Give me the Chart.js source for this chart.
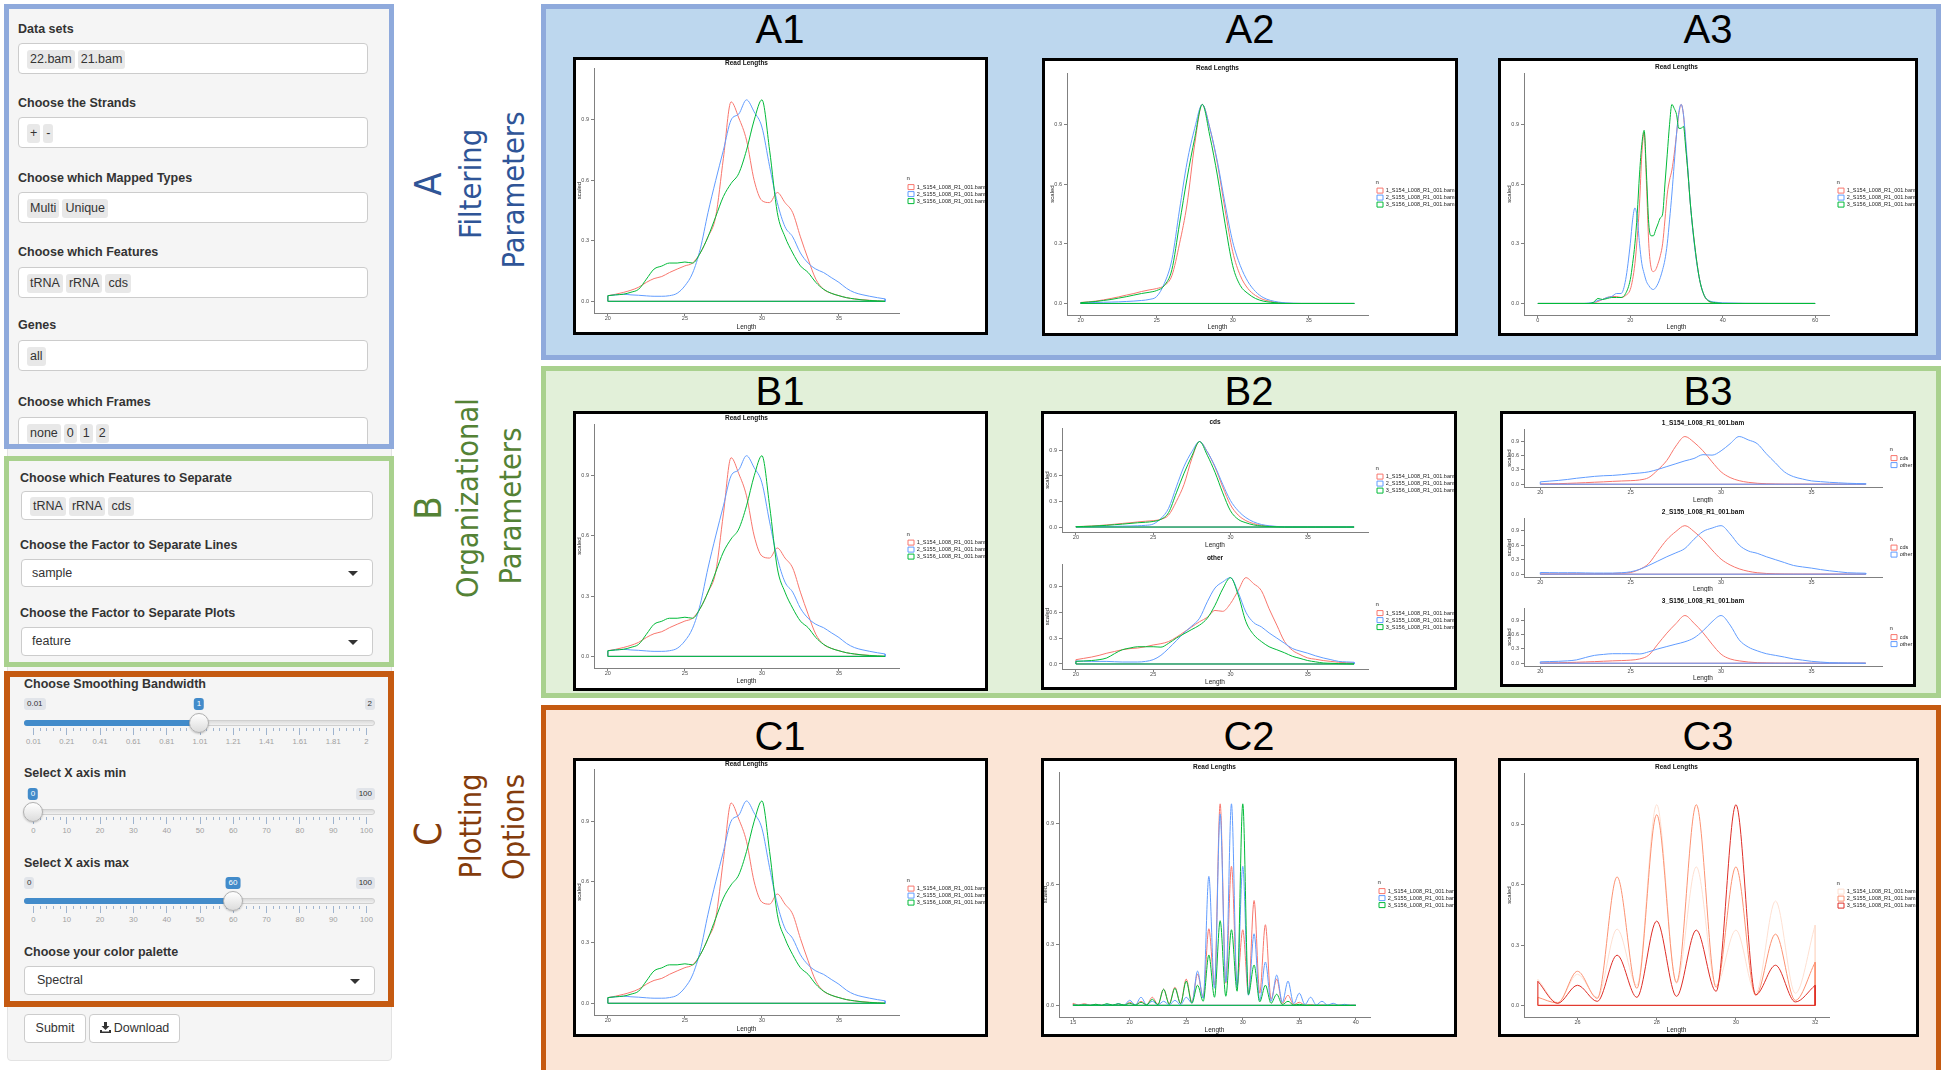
<!DOCTYPE html>
<html>
<head>
<meta charset="utf-8">
<title>Read length explorer</title>
<script src="https://cdn.jsdelivr.net/npm/chart.js@4.4.1/dist/chart.umd.min.js"></script>
<style>
  html, body { margin: 0; padding: 0; }
  body { width: 1945px; height: 1070px; position: relative; overflow: hidden; background: #fff;
         font-family: "Liberation Sans", Arial, sans-serif; color: #333; }
  .a { position: absolute; }
  .well { left: 7px; top: 4px; width: 385px; height: 1057px; background: #f5f5f5; border: 1px solid #e3e3e3;
          border-radius: 4px; box-sizing: border-box; }
  .frame { position: absolute; box-sizing: border-box; z-index: 3; }
  .lbl { position: absolute; font-weight: bold; font-size: 12.5px; line-height: 16px; white-space: nowrap; z-index: 2; color: #333; }
  .inp { position: absolute; background: #fff; border: 1px solid #ccc; border-radius: 4px; box-sizing: border-box;
         z-index: 2; padding: 5px 0 0 8px; white-space: nowrap; }
  .chip { display: inline-block; background: #e8e8e8; border-radius: 3px; height: 19px; line-height: 19px;
          font-size: 12.5px; padding: 0 3px; margin-right: 3px; color: #333; }
  .sel { position: absolute; background: #fff; border: 1px solid #ccc; border-radius: 4px; box-sizing: border-box;
         z-index: 2; font-size: 12.5px; padding-left: 10px; color: #333; }
  .caret { position: absolute; right: 14px; width: 0; height: 0; border-left: 5px solid transparent;
           border-right: 5px solid transparent; border-top: 5px solid #333; }
  .btn { position: absolute; background: #fff; border: 1px solid #ccc; border-radius: 4px; box-sizing: border-box;
         font-size: 12.5px; line-height: 27px; text-align: center; color: #333; z-index: 2; }
  .track { position: absolute; height: 6px; border-radius: 3px; background: linear-gradient(#dcdcdc, #f0f0f0);
           border: 1px solid #cfcfcf; box-sizing: border-box; z-index: 2; }
  .fill { position: absolute; height: 6px; border-radius: 3px; background: #428bca; z-index: 2; }
  .handle { position: absolute; width: 20px; height: 20px; border-radius: 50%; box-sizing: border-box;
            background: linear-gradient(#ffffff, #dcdcdc); border: 1px solid #b0b0b0; z-index: 4;
            box-shadow: 0 1px 2px rgba(0,0,0,0.2); }
  .mm { position: absolute; background: #e1e4e9; color: #333; font-size: 8px; line-height: 12px; padding: 0 3px;
        border-radius: 3px; z-index: 2; }
  .tag { position: absolute; background: #428bca; color: #fff; font-size: 8px; line-height: 12px; padding: 0 3px;
         border-radius: 3px; z-index: 2; transform: translateX(-50%); }
  .gl { position: absolute; width: 1px; background: #9fb4cf; z-index: 2; }
  .gt { position: absolute; font-size: 7.7px; color: #a0a0a0; transform: translateX(-50%); z-index: 2; white-space: nowrap; }
  .panel { position: absolute; box-sizing: border-box; border-width: 5px; border-style: solid; }
  .cbox { position: absolute; box-sizing: border-box; border: 3px solid #000; background: #fff; z-index: 2; }
  .plabel { position: absolute; width: 200px; text-align: center; font-size: 40px; line-height: 40px; color: #000; z-index: 2; }
  .vl { position: absolute; width: 300px; text-align: center; white-space: nowrap; transform: rotate(-90deg);
        font-family: "Liberation Sans Narrow", "DejaVu Sans Condensed", "Liberation Sans", sans-serif; }
  .vl.big { font-size: 38px; line-height: 38px; }
  .vl.word { font-size: 30.5px; line-height: 32px; }
  canvas.plot { position: absolute; z-index: 5; }
</style>
</head>
<body>

<!-- sidebar -->
<div class="a well"></div>
<div class="frame" style="left:4px;top:4px;width:390px;height:445px;border:5px solid #8faadc;"></div>
<div class="frame" style="left:4px;top:456px;width:390px;height:211px;border:5px solid #a9d18e;"></div>
<div class="frame" style="left:4px;top:671px;width:390px;height:336px;border:6px solid #c55a11;"></div>

<div class="lbl" style="left:18px;top:21px;">Data sets</div>
<div class="inp" style="left:18px;top:43px;width:350px;height:31px;"><span class="chip">22.bam</span><span class="chip">21.bam</span></div>
<div class="lbl" style="left:18px;top:95px;">Choose the Strands</div>
<div class="inp" style="left:18px;top:117px;width:350px;height:31px;"><span class="chip">+</span><span class="chip">-</span></div>
<div class="lbl" style="left:18px;top:170px;">Choose which Mapped Types</div>
<div class="inp" style="left:18px;top:192px;width:350px;height:31px;"><span class="chip">Multi</span><span class="chip">Unique</span></div>
<div class="lbl" style="left:18px;top:244px;">Choose which Features</div>
<div class="inp" style="left:18px;top:267px;width:350px;height:31px;"><span class="chip">tRNA</span><span class="chip">rRNA</span><span class="chip">cds</span></div>
<div class="lbl" style="left:18px;top:317px;">Genes</div>
<div class="inp" style="left:18px;top:340px;width:350px;height:31px;"><span class="chip">all</span></div>
<div class="lbl" style="left:18px;top:394px;">Choose which Frames</div>
<div class="inp" style="left:18px;top:417px;width:350px;height:31px;"><span class="chip">none</span><span class="chip">0</span><span class="chip">1</span><span class="chip">2</span></div>

<div class="lbl" style="left:20px;top:470px;">Choose which Features to Separate</div>
<div class="inp" style="left:21px;top:491px;width:352px;height:29px;padding-top:4px;"><span class="chip">tRNA</span><span class="chip">rRNA</span><span class="chip">cds</span></div>
<div class="lbl" style="left:20px;top:537px;">Choose the Factor to Separate Lines</div>
<div class="sel" style="left:21px;top:559px;width:352px;height:28px;line-height:26px;">sample<div class="caret" style="top:11px;"></div></div>
<div class="lbl" style="left:20px;top:605px;">Choose the Factor to Separate Plots</div>
<div class="sel" style="left:21px;top:627px;width:352px;height:29px;line-height:27px;">feature<div class="caret" style="top:12px;"></div></div>

<div class="lbl" style="left:24px;top:676px;">Choose Smoothing Bandwidth</div>
<div class="lbl" style="left:24px;top:765px;">Select X axis min</div>
<div class="lbl" style="left:24px;top:855px;">Select X axis max</div>
<div class="lbl" style="left:24px;top:944px;">Choose your color palette</div>
<div class="sel" style="left:24px;top:966px;width:351px;height:29px;line-height:27px;padding-left:12px;">Spectral<div class="caret" style="top:12px;"></div></div>

<div class="btn" style="left:24px;top:1014px;width:62px;height:29px;">Submit</div>
<div class="btn" style="left:89px;top:1014px;width:91px;height:29px;">
  <svg width="11" height="11" viewBox="0 0 11 11" style="vertical-align:-1px;margin-right:3px;"><path d="M4 0h3v4h2.5L5.5 8 1.5 4H4z M0 8h2v1.5h7V8h2v3H0z" fill="#333"/></svg>Download</div>

<!-- right panels -->
<div class="panel" style="left:541px;top:4px;width:1400px;height:356px;border-color:#8faadc;background:#bdd7ee;"></div>
<div class="panel" style="left:541px;top:366px;width:1400px;height:332px;border-color:#a9d18e;background:#e2f0d9;"></div>
<div class="panel" style="left:541px;top:705px;width:1400px;height:370px;border-color:#c55a11;background:#fbe5d6;"></div>

<div class="vl big" style="left:278px;top:165px;color:#2f5597;">A</div>
<div class="vl word" style="left:321px;top:168px;color:#2f5597;">Filtering</div>
<div class="vl word" style="left:364px;top:174px;color:#2f5597;">Parameters</div>
<div class="vl big" style="left:278px;top:489px;color:#548235;">B</div>
<div class="vl word" style="left:318px;top:482px;color:#548235;">Organizational</div>
<div class="vl word" style="left:361px;top:490px;color:#548235;">Parameters</div>
<div class="vl big" style="left:278px;top:815px;color:#843c0c;">C</div>
<div class="vl word" style="left:321px;top:810px;color:#843c0c;">Plotting</div>
<div class="vl word" style="left:364px;top:811px;color:#843c0c;">Options</div>

<div class="plabel" style="left:680px;top:9px;">A1</div>
<div class="plabel" style="left:1150px;top:9px;">A2</div>
<div class="plabel" style="left:1608px;top:9px;">A3</div>
<div class="plabel" style="left:680px;top:371px;">B1</div>
<div class="plabel" style="left:1149px;top:371px;">B2</div>
<div class="plabel" style="left:1608px;top:371px;">B3</div>
<div class="plabel" style="left:680px;top:716px;">C1</div>
<div class="plabel" style="left:1149px;top:716px;">C2</div>
<div class="plabel" style="left:1608px;top:716px;">C3</div>

<div class="cbox" style="left:573px;top:57px;width:415px;height:278px;"></div>
<div class="cbox" style="left:1042px;top:58px;width:416px;height:278px;"></div>
<div class="cbox" style="left:1498px;top:58px;width:420px;height:278px;"></div>
<div class="cbox" style="left:573px;top:411px;width:415px;height:280px;"></div>
<div class="cbox" style="left:1041px;top:411px;width:416px;height:279px;"></div>
<div class="cbox" style="left:1500px;top:411px;width:416px;height:276px;"></div>
<div class="cbox" style="left:573px;top:758px;width:415px;height:279px;"></div>
<div class="cbox" style="left:1041px;top:758px;width:416px;height:279px;"></div>
<div class="cbox" style="left:1498px;top:758px;width:421px;height:279px;"></div>

<script>
// ---------------- DATA ----------------
const sampleNames = ["1_S154_L008_R1_001.bam", "2_S155_L008_R1_001.bam", "3_S156_L008_R1_001.bam"];
const featureNames = ["cds", "other"];

// read lengths, 20..38 nt
const lengthsRead = [20, 20.5, 21, 21.5, 22, 22.5, 23, 23.5, 24, 24.5, 25, 25.5, 26, 26.5, 27, 27.5, 28, 28.5,
  29, 29.5, 30, 30.5, 31, 31.5, 32, 32.5, 33, 33.5, 34, 34.5, 35, 35.5, 36, 36.5, 37, 37.5, 38];

// all features (A1, B1, C1)
const allS154 = [0.028, 0.035, 0.044, 0.055, 0.07, 0.094, 0.113, 0.123, 0.143, 0.16, 0.176, 0.19, 0.24, 0.32, 0.42,
  0.71, 0.99, 0.91, 0.80, 0.60, 0.50, 0.49, 0.54, 0.49, 0.44, 0.32, 0.21, 0.11, 0.06, 0.04, 0.028, 0.018, 0.012,
  0.008, 0.005, 0.002, 0];
const allS155 = [0.028, 0.032, 0.035, 0.032, 0.03, 0.027, 0.025, 0.025, 0.028, 0.04, 0.077, 0.14, 0.26, 0.44, 0.60,
  0.75, 0.90, 0.93, 1.0, 0.94, 0.865, 0.67, 0.49, 0.37, 0.32, 0.24, 0.19, 0.16, 0.143, 0.118, 0.094, 0.064, 0.044,
  0.033, 0.025, 0.018, 0.012];
const allS156 = [0.028, 0.032, 0.035, 0.045, 0.06, 0.11, 0.16, 0.175, 0.19, 0.19, 0.195, 0.19, 0.24, 0.32, 0.42,
  0.52, 0.585, 0.635, 0.75, 0.90, 1.0, 0.75, 0.44, 0.32, 0.24, 0.176, 0.143, 0.094, 0.06, 0.04, 0.028, 0.018, 0.012,
  0.007, 0.004, 0.002, 0];

// cds only (A2, B2 top, B3 red)
const cdsS154 = [0.005, 0.008, 0.012, 0.018, 0.025, 0.033, 0.042, 0.05, 0.06, 0.068, 0.075, 0.09, 0.14, 0.30, 0.50,
  0.80, 1.0, 0.88, 0.70, 0.47, 0.26, 0.14, 0.075, 0.04, 0.02, 0.01, 0.004, 0.001, 0, 0, 0, 0, 0, 0, 0, 0, 0];
const cdsS155 = [0.003, 0.004, 0.005, 0.006, 0.007, 0.008, 0.01, 0.012, 0.015, 0.02, 0.035, 0.1, 0.22, 0.47, 0.71,
  0.88, 1.0, 0.88, 0.71, 0.50, 0.31, 0.19, 0.11, 0.06, 0.03, 0.015, 0.007, 0.003, 0.001, 0, 0, 0, 0, 0, 0, 0, 0];
const cdsS156 = [0.004, 0.007, 0.01, 0.015, 0.02, 0.027, 0.034, 0.042, 0.05, 0.056, 0.065, 0.09, 0.17, 0.40, 0.63,
  0.83, 1.0, 0.84, 0.64, 0.40, 0.19, 0.09, 0.05, 0.025, 0.012, 0.006, 0.002, 0, 0, 0, 0, 0, 0, 0, 0, 0, 0];

// everything but cds (B2 bottom, B3 blue)
const otherS154 = [0.05, 0.065, 0.08, 0.1, 0.125, 0.145, 0.165, 0.178, 0.185, 0.2, 0.22, 0.235, 0.26, 0.31, 0.37,
  0.43, 0.49, 0.54, 0.62, 0.61, 0.70, 0.85, 1.0, 0.93, 0.85, 0.64, 0.45, 0.26, 0.16, 0.11, 0.07, 0.055, 0.04, 0.03,
  0.02, 0.015, 0.012];
const otherS155 = [0.035, 0.032, 0.03, 0.03, 0.03, 0.026, 0.023, 0.023, 0.023, 0.03, 0.05, 0.1, 0.18, 0.27, 0.36,
  0.44, 0.53, 0.72, 0.88, 0.95, 1.0, 0.83, 0.6, 0.48, 0.43, 0.36, 0.3, 0.24, 0.18, 0.15, 0.125, 0.095, 0.07, 0.05,
  0.03, 0.024, 0.02];
const otherS156 = [0.03, 0.035, 0.04, 0.05, 0.07, 0.12, 0.165, 0.185, 0.2, 0.2, 0.2, 0.195, 0.24, 0.3, 0.35, 0.4,
  0.45, 0.53, 0.68, 0.87, 1.0, 0.8, 0.49, 0.34, 0.26, 0.2, 0.165, 0.13, 0.09, 0.065, 0.04, 0.025, 0.012, 0.008,
  0.004, 0.002, 0];

// A3: x axis 0..60
const lengthsWide = [0, 10, 11, 12, 13, 14, 15, 16, 17, 18, 19, 20, 20.5, 21, 21.5, 22, 22.5, 23, 23.5, 24, 24.5,
  25, 25.5, 26, 26.5, 27, 27.5, 28, 28.5, 29, 29.5, 30, 30.5, 31, 31.5, 32, 32.5, 33, 34, 35, 36, 37, 38, 39, 40,
  50, 60];
const wideS154 = [0, 0, 0, 0.002, 0.01, 0.02, 0.03, 0.035, 0.035, 0.03, 0.04, 0.07, 0.12, 0.2, 0.33, 0.5, 0.75,
  0.86, 0.6, 0.3, 0.18, 0.16, 0.17, 0.2, 0.24, 0.3, 0.42, 0.55, 0.62, 0.67, 0.75, 0.85, 0.95, 1.0, 0.95, 0.8, 0.65,
  0.5, 0.28, 0.12, 0.04, 0.01, 0.004, 0.001, 0, 0, 0];
const wideS155 = [0, 0, 0.002, 0.005, 0.015, 0.02, 0.03, 0.035, 0.05, 0.05, 0.12, 0.3, 0.42, 0.48, 0.43, 0.3, 0.2,
  0.15, 0.11, 0.09, 0.075, 0.07, 0.08, 0.1, 0.13, 0.17, 0.22, 0.3, 0.42, 0.55, 0.7, 0.85, 0.96, 1.0, 0.95, 0.82,
  0.66, 0.5, 0.27, 0.12, 0.04, 0.015, 0.008, 0.005, 0.003, 0, 0];
const wideS156 = [0, 0, 0, 0.005, 0.025, 0.02, 0.025, 0.03, 0.03, 0.03, 0.05, 0.12, 0.2, 0.3, 0.45, 0.65, 0.8,
  0.87, 0.65, 0.4, 0.34, 0.34, 0.37, 0.4, 0.43, 0.45, 0.6, 0.75, 0.9, 1.0, 0.98, 0.95, 0.88, 0.88, 0.89, 0.78,
  0.65, 0.5, 0.28, 0.12, 0.04, 0.012, 0.005, 0.002, 0, 0, 0];

// C2 / C3: small bandwidth, 15..40
const lengthsFine = [15, 15.5, 16, 16.5, 17, 17.5, 18, 18.5, 19, 19.5, 20, 20.5, 21, 21.5, 22, 22.5, 23, 23.5,
  24, 24.5, 25, 25.5, 26, 26.5, 27, 27.5, 28, 28.5, 29, 29.5, 30, 30.5, 31, 31.5, 32, 32.5, 33, 33.5, 34, 34.5,
  35, 35.5, 36, 36.5, 37, 37.5, 38, 38.5, 39, 39.5, 40];
const fineS154 = [0.01, 0.002, 0.008, 0.001, 0.005, 0.001, 0.004, 0.001, 0.006, 0.001,
  0.015, 0.002, 0.02, 0.003, 0.04, 0.005, 0.08, 0.008, 0.09, 0.01,
  0.13, 0.015, 0.155, 0.04, 0.38, 0.1, 1.0, 0.11, 0.69, 0.1,
  0.375, 0.06, 0.52, 0.06, 0.4, 0.03, 0.13, 0.01, 0.05, 0.003,
  0.015, 0.001, 0.003, 0, 0.001, 0, 0, 0, 0, 0, 0];
const fineS155 = [0.002, 0, 0.003, 0, 0.004, 0, 0.005, 0.001, 0.008, 0.001,
  0.025, 0.002, 0.04, 0.003, 0.02, 0.002, 0.02, 0.002, 0.025, 0.003,
  0.04, 0.012, 0.17, 0.035, 0.64, 0.085, 0.95, 0.115, 1.0, 0.09,
  0.69, 0.05, 0.355, 0.025, 0.215, 0.02, 0.15, 0.015, 0.12, 0.008,
  0.06, 0.004, 0.04, 0.002, 0.02, 0.001, 0.01, 0, 0.005, 0, 0];
const fineS156 = [0.002, 0, 0.003, 0, 0.005, 0, 0.008, 0.001, 0.008, 0.001,
  0.01, 0.001, 0.015, 0.002, 0.03, 0.003, 0.08, 0.005, 0.085, 0.008,
  0.12, 0.01, 0.1, 0.02, 0.25, 0.04, 0.42, 0.045, 0.375, 0.07,
  1.0, 0.053, 0.2, 0.017, 0.1, 0.01, 0.055, 0.004, 0.02, 0.001,
  0.005, 0, 0, 0, 0, 0, 0, 0, 0, 0, 0];

// tick labels
const scaledTicks = [0, 0.3, 0.6, 0.9];
const readTicks = [20, 25, 30, 35];
const wideTicks = [0, 20, 40, 60];
const fineTicks = [15, 20, 25, 30, 35, 40];
const zoomTicks = [26, 28, 30, 32];
const bandwidthLabels = ["0.01", "0.21", "0.41", "0.61", "0.81", "1.01", "1.21", "1.41", "1.61", "1.81", "2"];
const percentLabels = ["0", "10", "20", "30", "40", "50", "60", "70", "80", "90", "100"];

const hue3 = ["#F8766D", "#619CFF", "#00BA38"];
const reds3 = ["#FEE0D2", "#FC9272", "#DE2D26"];

// ---------------- SIDEBAR SLIDERS ----------------
function el(cls, css, text) {
  const d = document.createElement("div");
  d.className = cls;
  Object.keys(css).forEach((k) => { d.style[k] = typeof css[k] === "number" ? css[k] + "px" : css[k]; });
  if (text !== undefined) d.textContent = text;
  document.body.appendChild(d);
  return d;
}

function slider(p) {
  const left = 24, right = 375, g0 = 33, g1 = 366;
  el("track", { left: left, top: p.track - 3, width: right - left });
  if (p.handle > left + 2) el("fill", { left: left, top: p.track - 3, width: p.handle - left });
  if (p.showMin) el("mm", { left: left, top: p.chip }, p.minText);
  const mx = el("mm", { top: p.chip }, p.maxText);
  mx.style.right = 1945 - right + "px";
  el("tag", { left: p.handle, top: p.chip }, p.value);
  el("handle", { left: p.handle - 10, top: p.track - 10 });
  const step = (g1 - g0) / 10;
  for (let i = 0; i <= 10; i++) {
    const gx = g0 + i * step;
    el("gl", { left: gx, top: p.track + 5, height: 7 });
    el("gt", { left: gx + 0.5, top: p.track + 14 }, p.labels[i]);
    if (i < 10) {
      for (let j = 1; j <= 4; j++) el("gl", { left: gx + (j * step) / 5, top: p.track + 5, height: 3 });
    }
  }
}

slider({ track: 723, chip: 698, minText: "0.01", maxText: "2", value: "1", handle: 199, showMin: true, labels: bandwidthLabels });
slider({ track: 812, chip: 788, minText: "0", maxText: "100", value: "0", handle: 33, showMin: false, labels: percentLabels });
slider({ track: 901, chip: 877, minText: "0", maxText: "100", value: "60", handle: 233, showMin: true, labels: percentLabels });

// ---------------- DENSITY PLOTS ----------------
const boxA1 = { x: 576, y: 60, w: 409, h: 272, plotL: 594, plotT: 68, plotR: 899, plotB: 313, titleY: 63.5, yTitleX: 579, xTitleY: 327 };
const boxA2 = { x: 1045, y: 61, w: 410, h: 272, plotL: 1067, plotT: 73, plotR: 1368, plotB: 315, titleY: 68, yTitleX: 1052, xTitleY: 327.5 };
const boxA3 = { x: 1501, y: 61, w: 414, h: 272, plotL: 1524, plotT: 73, plotR: 1829, plotB: 315, titleY: 67, yTitleX: 1509, xTitleY: 327.5 };
const boxB1 = { x: 576, y: 414, w: 409, h: 274, plotL: 594, plotT: 424, plotR: 899, plotB: 668, titleY: 418.5, yTitleX: 579, xTitleY: 681.5 };
const boxB2a = { x: 1044, y: 414, w: 410, h: 137, plotL: 1062, plotT: 428, plotR: 1368, plotB: 532, titleY: 422, yTitleX: 1047, xTitleY: 545.5 };
const boxB2b = { x: 1044, y: 551, w: 410, h: 136, plotL: 1062, plotT: 564, plotR: 1368, plotB: 669, titleY: 558, yTitleX: 1047, xTitleY: 682 };
const boxB3a = { x: 1503, y: 414, w: 410, h: 89, plotL: 1524, plotT: 429, plotR: 1882, plotB: 487, titleY: 423, yTitleX: 1509, xTitleY: 500 };
const boxB3b = { x: 1503, y: 503, w: 410, h: 89, plotL: 1524, plotT: 518, plotR: 1882, plotB: 577, titleY: 512.5, yTitleX: 1509, xTitleY: 589 };
const boxB3c = { x: 1503, y: 592, w: 410, h: 92, plotL: 1524, plotT: 608, plotR: 1882, plotB: 666, titleY: 601.5, yTitleX: 1509, xTitleY: 678 };
const boxC1 = { x: 576, y: 761, w: 409, h: 273, plotL: 594, plotT: 769, plotR: 899, plotB: 1015, titleY: 764.5, yTitleX: 579, xTitleY: 1029 };
const boxC2 = { x: 1044, y: 761, w: 410, h: 273, plotL: 1059, plotT: 772, plotR: 1370, plotB: 1017, titleY: 767, yTitleX: 1045, xTitleY: 1030.5 };
const boxC3 = { x: 1501, y: 761, w: 415, h: 273, plotL: 1524, plotT: 773, plotR: 1829, plotB: 1017, titleY: 767.5, yTitleX: 1509, xTitleY: 1030.5 };

const axisGrey = "#808080";
const legendGap = 7.5;

function densityChart(g, spec) {
  const cv = document.createElement("canvas");
  cv.className = "plot";
  cv.width = g.w;
  cv.height = g.h;
  cv.style.left = g.x + "px";
  cv.style.top = g.y + "px";
  document.body.appendChild(cv);

  const datasets = [];
  spec.series.forEach((s, i) => {
    const pts = spec.xs.map((x, k) => ({ x: x, y: s.values[k] }));
    const first = pts[0];
    const last = pts[pts.length - 1];
    datasets.push({
      label: s.label, data: pts, borderColor: s.color, backgroundColor: "rgba(255,255,255,0)",
      borderWidth: 1, pointRadius: 0, cubicInterpolationMode: "monotone", order: 10 - i
    });
    // ggplot closes every density polygon down to the baseline
    datasets.push({
      label: "", outline: true, data: [last, { x: last.x, y: 0 }, { x: first.x, y: 0 }, first],
      borderColor: s.color, borderWidth: 1, pointRadius: 0, tension: 0, order: 10 - i
    });
  });

  const titleTop = g.titleY - g.y - 3.9;
  new Chart(cv, {
    type: "line",
    data: { datasets: datasets },
    options: {
      responsive: false,
      animation: false,
      devicePixelRatio: 1,
      events: [],
      layout: { padding: 0, autoPadding: false },
      plugins: {
        tooltip: { enabled: false },
        title: {
          display: true, text: spec.title, fullSize: false, color: "#111",
          font: { size: 6.5, weight: "bold" },
          padding: { top: titleTop, bottom: g.plotT - g.y - titleTop - 7.8 }
        },
        legend: {
          position: "right", align: "center", fullSize: false,
          maxWidth: g.x + g.w - g.plotR - legendGap,
          title: { display: true, text: "n", position: "start", color: "#222", font: { size: 6 }, padding: 0 },
          labels: {
            color: "#222", font: { size: 5.5 }, boxWidth: 6, boxHeight: 5, padding: 1.5,
            filter: (item, data) => !data.datasets[item.datasetIndex].outline,
            sort: (a, b) => a.datasetIndex - b.datasetIndex
          }
        }
      },
      scales: {
        x: {
          type: "linear", min: spec.xMin, max: spec.xMax,
          afterBuildTicks: (s) => { s.ticks = spec.xTicks.map((v) => ({ value: v })); },
          afterFit: (s) => { s.height = g.y + g.h - g.plotB; },
          grid: { drawOnChartArea: false, tickLength: 3, color: axisGrey },
          border: { color: axisGrey },
          ticks: { color: "#4d4d4d", font: { size: 5.5 }, padding: -1, maxRotation: 0, autoSkip: false },
          title: {
            display: true, text: "Length", color: "#222", font: { size: 6.5 },
            padding: { top: 0, bottom: g.y + g.h - g.xTitleY - 3.9 }
          }
        },
        y: {
          type: "linear", min: -0.058, max: 1.158,
          afterBuildTicks: (s) => { s.ticks = scaledTicks.map((v) => ({ value: v })); },
          afterFit: (s) => { s.width = g.plotL - g.x; },
          grid: { drawOnChartArea: false, tickLength: 3, color: axisGrey },
          border: { color: axisGrey },
          ticks: { color: "#4d4d4d", font: { size: 5.5 }, padding: 2, callback: (v) => v.toFixed(1) },
          title: {
            display: true, text: "scaled", color: "#222", font: { size: 6 },
            padding: { top: g.yTitleX - g.x - 3.6, bottom: 0 }
          }
        },
        // spacer between the panel and the legend
        gap: {
          type: "linear", position: "right", display: true,
          grid: { display: false }, border: { display: false }, ticks: { display: false },
          afterFit: (s) => { s.width = legendGap; }
        }
      }
    }
  });
}

function bySample(a, b, c, colors) {
  return [
    { label: sampleNames[0], values: a, color: colors[0] },
    { label: sampleNames[1], values: b, color: colors[1] },
    { label: sampleNames[2], values: c, color: colors[2] }
  ];
}

const readRange = { xs: lengthsRead, xMin: 19.1, xMax: 38.9, xTicks: readTicks };

densityChart(boxA1, Object.assign({ title: "Read Lengths", series: bySample(allS154, allS155, allS156, hue3) }, readRange));
densityChart(boxA2, Object.assign({ title: "Read Lengths", series: bySample(cdsS154, cdsS155, cdsS156, hue3) }, readRange));
densityChart(boxA3, {
  title: "Read Lengths", xs: lengthsWide, xMin: -3, xMax: 63, xTicks: wideTicks,
  series: bySample(wideS154, wideS155, wideS156, hue3)
});

densityChart(boxB1, Object.assign({ title: "Read Lengths", series: bySample(allS154, allS155, allS156, hue3) }, readRange));
densityChart(boxB2a, Object.assign({ title: "cds", series: bySample(cdsS154, cdsS155, cdsS156, hue3) }, readRange));
densityChart(boxB2b, Object.assign({ title: "other", series: bySample(otherS154, otherS155, otherS156, hue3) }, readRange));

const cdsBySample = [cdsS154, cdsS155, cdsS156];
const otherBySample = [otherS154, otherS155, otherS156];
[boxB3a, boxB3b, boxB3c].forEach((g, i) => {
  densityChart(g, Object.assign({
    title: sampleNames[i],
    series: [
      { label: featureNames[0], values: cdsBySample[i], color: hue3[0] },
      { label: featureNames[1], values: otherBySample[i], color: hue3[1] }
    ]
  }, readRange));
});

densityChart(boxC1, Object.assign({ title: "Read Lengths", series: bySample(allS154, allS155, allS156, hue3) }, readRange));
densityChart(boxC2, {
  title: "Read Lengths", xs: lengthsFine, xMin: 13.75, xMax: 41.25, xTicks: fineTicks,
  series: bySample(fineS154, fineS155, fineS156, hue3)
});
// C3 zooms the same densities into 25..32 nt
const zoomFrom = lengthsFine.indexOf(25);
const zoomTo = lengthsFine.indexOf(32) + 1;
densityChart(boxC3, {
  title: "Read Lengths", xs: lengthsFine.slice(zoomFrom, zoomTo), xMin: 24.65, xMax: 32.35, xTicks: zoomTicks,
  series: bySample(fineS154.slice(zoomFrom, zoomTo), fineS155.slice(zoomFrom, zoomTo), fineS156.slice(zoomFrom, zoomTo), reds3)
});
</script>
</body>
</html>
